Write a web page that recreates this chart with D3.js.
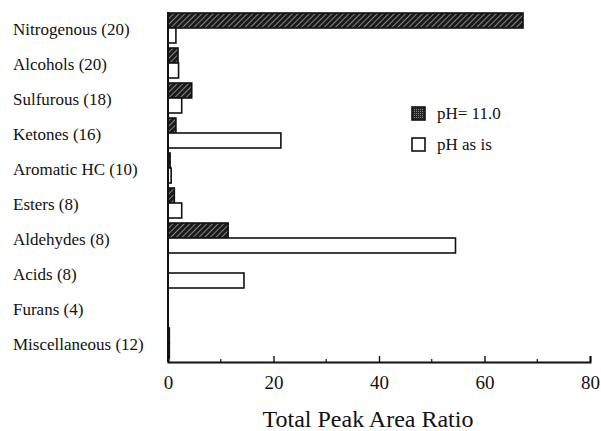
<!DOCTYPE html>
<html>
<head>
<meta charset="utf-8">
<script src="https://cdn.jsdelivr.net/npm/d3@7/dist/d3.min.js"></script>
<style>
  body { margin: 0; background: #fff; }
  svg { display: block; }
  text { font-family: "Liberation Serif", "Times New Roman", serif; fill: #111; }
</style>
</head>
<body>
<svg id="chart" width="601" height="431"></svg>
<script>
const categories = ["Nitrogenous (20)", "Alcohols (20)", "Sulfurous (18)", "Ketones (16)",
  "Aromatic HC (10)", "Esters (8)", "Aldehydes (8)", "Acids (8)", "Furans (4)", "Miscellaneous (12)"];
const ph11 = [67.3, 1.9, 4.5, 1.5, 0.4, 1.2, 11.4, 0, 0, 0.25];
const phAsIs = [1.5, 2.0, 2.6, 21.4, 0.6, 2.6, 54.5, 14.4, 0, 0.25];
const seriesNames = ["pH= 11.0", "pH as is"];
const majorTicks = [0, 20, 40, 60, 80];
const minorTicks = [10, 30, 50, 70];

const svg = d3.select("#chart");
const margin = {left: 168, right: 11, top: 12, bottom: 69};
const width = 601, height = 431;

const x = d3.scaleLinear().domain([0, 80]).range([margin.left, width - margin.right]);
const y = d3.scaleBand().domain(categories).range([margin.top, height - margin.bottom]);
const sub = d3.scaleBand().domain(seriesNames).range([1, 31]);

// hatch pattern for pH 11
const defs = svg.append("defs");
const hatch = defs.append("pattern")
  .attr("id", "hatch").attr("patternUnits", "userSpaceOnUse")
  .attr("width", 4).attr("height", 4)
  .attr("patternTransform", "rotate(45)");
hatch.append("rect").attr("width", 4).attr("height", 4).attr("fill", "#1a1a1a");
hatch.append("line").attr("x1", 0).attr("y1", 0).attr("x2", 0).attr("y2", 4)
  .attr("stroke", "#ddd").attr("stroke-width", 1.1);

const stipple = defs.append("pattern")
  .attr("id", "stipple").attr("patternUnits", "userSpaceOnUse")
  .attr("width", 2).attr("height", 2);
stipple.append("rect").attr("width", 2).attr("height", 2).attr("fill", "#222");
stipple.append("rect").attr("width", 1).attr("height", 1).attr("fill", "#888");

const rows = categories.map((c, i) => ({cat: c, vals: [ph11[i], phAsIs[i]]}));

const g = svg.append("g");
rows.forEach(r => {
  r.vals.forEach((v, j) => {
    if (v <= 0) return;
    g.append("rect")
      .attr("x", x(0))
      .attr("y", y(r.cat) + sub(seriesNames[j]))
      .attr("width", x(v) - x(0))
      .attr("height", sub.bandwidth())
      .attr("fill", j === 0 ? "url(#hatch)" : "#fff")
      .attr("stroke", "#111")
      .attr("stroke-width", 1.6);
  });
});

// category labels
svg.append("g").selectAll("text")
  .data(categories)
  .join("text")
  .attr("x", 13)
  .attr("y", d => y(d) + y.bandwidth() / 2)
  .attr("dy", "0.35em")
  .attr("font-size", 17)
  .text(d => d);

// bottom axis
const xAxis = svg.append("g").attr("transform", `translate(0,${height - margin.bottom})`);
xAxis.call(d3.axisBottom(x).tickValues(majorTicks).tickSize(-6).tickPadding(14).tickFormat(d3.format("d")));
xAxis.select(".domain").attr("stroke", "#111").attr("stroke-width", 2);
xAxis.selectAll(".tick line").attr("stroke", "#111").attr("stroke-width", 1.4);
xAxis.selectAll(".tick text").attr("font-size", 19).attr("font-family", "Liberation Serif").attr("fill", "#111");
xAxis.selectAll(".minor").data(minorTicks).join("line")
  .attr("class", "minor")
  .attr("x1", d => x(d)).attr("x2", d => x(d))
  .attr("y1", 0).attr("y2", -3)
  .attr("stroke", "#111").attr("stroke-width", 1.2);

// left axis line
svg.append("line")
  .attr("x1", x(0)).attr("x2", x(0))
  .attr("y1", margin.top).attr("y2", height - margin.bottom)
  .attr("stroke", "#111").attr("stroke-width", 2);

// axis title
svg.append("text")
  .attr("x", 368).attr("y", 427)
  .attr("text-anchor", "middle")
  .attr("font-size", 24)
  .text("Total Peak Area Ratio");

// legend
const legend = svg.append("g").attr("transform", "translate(412,107)");
seriesNames.forEach((s, i) => {
  legend.append("rect")
    .attr("x", 0).attr("y", i * 31)
    .attr("width", 13).attr("height", 13)
    .attr("fill", i === 0 ? "url(#stipple)" : "#fff")
    .attr("stroke", "#111").attr("stroke-width", 1.6);
  legend.append("text")
    .attr("x", 25).attr("y", i * 31 + 12)
    .attr("font-size", 17)
    .text(s);
});
</script>
</body>
</html>
